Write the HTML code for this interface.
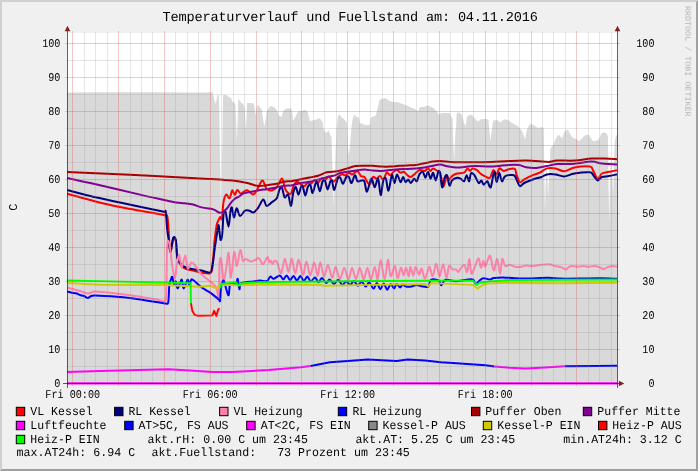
<!DOCTYPE html>
<html><head><meta charset="utf-8"><title>Temperaturverlauf und Fuellstand</title>
<style>html,body{margin:0;padding:0;background:#f0f0f0;}body{width:698px;height:471px;overflow:hidden;font-family:"Liberation Mono",monospace;}svg{display:block;}</style>
</head><body>
<svg width="698" height="471" viewBox="0 0 698 471" font-family="Liberation Mono, monospace">
<rect x="0" y="0" width="698" height="471" fill="#f0f0f0"/>
<polygon points="0,0 698,0 696,2 2,2 2,469 0,471" fill="#d0d0d0"/>
<polygon points="698,0 698,471 0,471 2,469 696,469 696,2" fill="#a0a0a0"/>
<rect x="67" y="33" width="551" height="351" fill="#ffffff"/>
<polygon points="67.0,383.9 67.0,92.4 100.0,92.3 150.0,92.2 190.0,92.4 205.0,92.5 212.5,92.3 213.0,94.5 215.5,104.0 217.8,94.7 218.8,94.5 219.3,110.0 221.2,232.0 222.7,110.0 223.2,94.7 226.6,95.0 228.6,97.0 230.9,97.8 232.6,102.5 234.1,101.5 235.6,106.6 236.9,141.0 238.3,99.3 239.6,100.0 241.1,103.0 242.9,103.5 244.6,107.5 245.9,130.0 247.1,103.0 253.6,103.3 254.1,105.0 255.6,115.0 257.2,105.5 258.7,105.5 261.7,109.5 263.2,120.0 264.4,126.6 265.5,120.0 267.0,110.5 269.5,107.0 271.0,106.0 274.5,107.5 276.8,110.0 279.0,115.5 281.5,116.9 283.5,110.5 286.0,108.8 291.0,108.2 291.9,111.0 293.3,121.3 295.6,116.0 298.6,111.2 302.1,111.0 304.6,109.5 307.6,111.5 309.1,118.0 310.1,121.3 313.1,120.3 316.6,119.6 319.6,118.3 321.2,120.0 322.7,122.0 323.4,128.0 324.7,131.6 326.7,133.0 328.2,130.0 330.2,134.6 331.5,137.3 331.9,150.0 333.7,207.0 335.6,150.0 336.2,140.0 336.5,129.5 338.0,116.0 339.5,114.2 341.5,117.2 344.0,119.0 346.5,122.0 347.0,124.0 347.5,140.0 348.7,155.0 349.8,148.0 351.6,126.0 352.6,119.0 354.6,114.2 356.6,117.0 358.9,117.2 359.6,123.0 362.1,123.4 364.6,124.9 369.6,125.0 370.6,118.0 373.1,116.5 375.8,115.6 377.0,111.0 378.5,105.0 379.2,100.5 382.0,98.5 385.0,98.0 387.0,99.0 389.0,100.5 393.0,102.0 397.6,102.0 401.1,103.5 406.1,105.2 411.1,107.6 415.1,109.0 416.6,110.6 418.1,110.9 419.6,107.6 422.1,106.5 424.1,107.0 427.7,105.2 430.2,106.5 433.7,108.0 435.2,109.9 437.2,111.6 438.2,114.6 439.7,114.0 442.2,113.0 450.0,113.0 451.0,116.0 452.5,119.0 452.8,129.0 453.4,145.0 454.3,160.0 455.0,140.0 455.6,130.0 456.0,129.0 456.5,115.0 457.5,112.5 460.0,112.8 462.0,115.0 464.0,123.0 465.6,126.0 466.9,117.0 469.0,115.0 472.0,114.8 474.0,117.5 478.0,121.5 481.0,119.2 485.0,118.8 488.6,119.5 489.0,127.0 490.4,141.0 492.0,128.0 493.2,120.5 497.2,120.0 500.2,122.5 504.2,119.2 508.2,120.0 512.0,123.0 518.0,126.0 522.0,131.0 525.0,139.0 527.0,129.0 530.0,124.0 533.0,124.5 538.0,128.0 541.0,127.2 543.0,127.5 543.8,128.0 544.2,165.0 545.0,212.0 545.9,175.0 546.8,168.0 547.5,180.0 548.1,200.0 548.9,175.0 550.0,160.0 550.2,149.0 551.0,148.0 553.6,144.0 556.0,138.0 558.6,134.5 560.0,136.0 562.0,138.5 564.6,131.0 568.0,129.8 570.0,134.0 573.0,138.2 575.6,138.5 579.0,141.2 581.0,139.5 584.6,135.5 588.6,134.5 590.6,137.5 593.1,141.2 597.1,140.5 599.6,138.0 600.6,135.0 602.1,132.8 604.6,132.5 606.6,133.5 607.6,135.5 607.9,136.0 608.4,175.0 609.2,223.0 610.0,175.0 611.2,156.0 612.3,175.0 613.2,195.0 613.8,170.0 614.6,143.0 615.6,137.0 617.0,135.0 617.5,135.0 617.5,383.9" fill="#000000" fill-opacity="0.15"/>
<g clip-path="url(#clip)">
<clipPath id="clip"><rect x="67" y="31" width="551" height="355"/></clipPath>
<path d="M67.0,193.7C70.7,194.7 81.5,197.9 90.0,200.0C98.5,202.1 108.2,204.6 120.0,207.0C131.8,209.4 156.4,213.6 164.0,215.0C167.2,216.4 166.5,213.7 167.2,216.0C167.9,218.3 168.3,225.1 168.6,229.4C168.9,233.7 169.0,239.4 169.3,243.0C169.6,246.6 170.0,252.6 170.6,252.0C171.2,251.4 172.4,240.8 173.2,239.0C174.0,237.2 175.1,238.0 175.8,241.0C176.5,244.0 176.4,253.8 177.5,258.0C178.6,262.2 180.2,265.2 182.7,267.2C185.2,269.2 188.6,269.6 193.0,270.6C197.4,271.6 207.0,274.3 210.2,273.2C212.7,272.1 212.0,269.1 212.7,264.0C213.4,258.9 213.9,247.5 214.5,241.4C215.1,235.3 216.0,229.1 216.5,226.0C217.0,222.9 217.0,223.6 217.6,222.2C218.2,220.8 219.5,217.5 220.2,217.0C220.9,216.5 221.4,221.3 221.9,218.8C222.4,216.3 222.9,205.5 223.6,201.6C224.3,197.7 225.2,195.3 226.2,194.7C227.2,194.1 228.6,198.8 229.6,198.1C230.6,197.4 231.4,190.9 232.2,190.4C233.0,189.9 234.0,195.1 234.8,195.0C235.6,194.9 236.3,190.1 237.3,189.9C238.3,189.7 239.7,193.6 240.8,193.8C241.9,194.0 243.1,191.8 244.2,191.3C245.3,190.8 246.3,189.9 247.7,190.4C249.1,190.9 251.4,194.3 252.8,194.4C254.2,194.5 255.1,193.2 256.3,191.3C257.5,189.4 259.5,184.4 260.6,182.7C261.7,181.0 262.1,179.9 263.1,180.9C264.1,181.9 265.2,187.2 266.6,188.7C268.0,190.2 270.1,190.7 271.7,190.4C273.3,190.1 275.4,188.8 276.9,187.0C278.4,185.2 280.2,180.3 281.2,179.2C282.2,178.1 282.2,178.5 282.9,180.1C283.6,181.7 284.3,187.3 285.5,189.5C286.7,191.7 289.2,194.6 290.6,193.8C292.0,193.0 293.0,186.3 294.1,184.4C295.2,182.5 296.4,181.8 297.5,181.8C298.6,181.8 299.9,183.7 301.0,184.4C302.1,185.1 303.3,186.4 304.4,186.1C305.5,185.8 306.7,183.1 307.8,182.7C308.9,182.3 310.1,183.9 311.2,183.5C312.3,183.1 313.6,180.2 314.7,180.1C315.8,180.0 317.0,183.0 318.1,182.7C319.2,182.4 320.5,178.8 321.6,178.4C322.7,178.0 323.9,180.4 325.0,180.1C326.1,179.8 327.4,176.6 328.5,176.6C329.6,176.6 331.0,179.3 331.9,180.1C332.8,180.9 333.4,181.8 334.3,181.3C335.2,180.8 336.5,178.1 337.7,177.0C338.9,175.9 340.8,174.7 342.0,174.4C343.2,174.1 344.4,175.5 345.5,175.2C346.6,174.9 347.8,172.8 348.9,172.7C350.0,172.6 350.9,174.7 352.3,174.4C353.7,174.1 356.1,170.6 357.5,170.9C358.9,171.2 359.8,175.1 360.9,176.1C362.0,177.1 363.0,175.6 364.4,177.0C365.8,178.4 368.1,184.7 369.5,184.7C370.9,184.7 371.9,178.0 373.0,177.0C374.1,176.0 375.3,178.8 376.4,178.7C377.5,178.6 378.8,176.0 379.9,176.1C381.0,176.2 382.2,180.0 383.3,179.5C384.4,179.0 385.6,173.4 386.7,172.7C387.8,172.0 389.1,175.3 390.2,175.2C391.3,175.1 392.5,172.6 393.6,171.8C394.7,171.0 395.9,170.0 397.0,170.1C398.1,170.2 399.4,172.4 400.5,172.7C401.6,173.0 402.8,171.4 403.9,171.8C405.0,172.2 406.3,174.4 407.4,175.2C408.5,176.0 409.7,177.1 410.8,177.0C411.9,176.9 412.8,175.5 414.2,174.4C415.6,173.3 417.7,170.7 419.4,170.1C421.1,169.5 423.2,171.2 424.6,170.9C426.0,170.6 427.0,168.4 428.0,168.4C429.0,168.4 429.8,170.9 430.6,170.9C431.4,170.9 432.0,168.4 433.1,168.4C434.2,168.4 436.3,170.2 437.4,170.9C438.5,171.6 439.3,171.3 440.0,172.7C440.7,174.1 441.1,177.3 441.7,179.5C442.3,181.7 442.7,186.9 443.5,186.4C444.3,185.9 446.1,177.1 446.9,176.1C447.7,175.1 447.8,180.4 448.6,180.4C449.4,180.4 450.6,177.2 452.0,176.1C453.4,175.0 455.3,174.0 457.2,173.5C459.1,173.0 462.5,173.5 464.1,172.7C465.7,171.9 466.5,168.7 467.5,168.4C468.5,168.1 469.3,170.9 470.1,170.9C470.9,170.9 471.6,168.5 472.7,168.4C473.8,168.3 475.8,169.3 477.0,170.1C478.2,170.9 479.2,172.5 480.4,173.5C481.6,174.5 483.2,175.4 484.7,176.1C486.2,176.8 488.5,178.8 489.9,177.8C491.3,176.8 492.2,170.6 493.3,170.1C494.4,169.6 495.7,174.7 496.7,174.4C497.7,174.1 498.2,169.0 499.3,168.4C500.4,167.8 502.1,170.8 503.6,170.9C505.1,171.0 507.0,169.5 508.8,169.2C510.6,168.9 513.6,168.1 514.8,168.9C516.0,169.7 515.7,172.3 516.5,174.4C517.3,176.5 518.7,181.3 519.9,182.1C521.1,182.9 522.1,180.6 524.2,179.5C526.3,178.4 530.3,176.3 532.8,175.2C535.3,174.1 537.4,173.8 539.7,172.7C542.0,171.6 544.4,169.1 546.9,168.4C549.4,167.7 552.7,167.9 555.5,168.4C558.3,168.9 561.1,171.4 564.1,171.3C567.1,171.2 570.3,168.3 574.4,167.5C578.5,166.7 586.9,166.1 589.9,166.6C592.9,167.1 592.1,169.0 593.3,170.9C594.5,172.8 596.2,178.3 597.6,178.7C599.0,179.1 600.1,174.6 601.9,173.5C603.7,172.4 606.4,172.3 608.8,171.8C611.2,171.3 615.7,170.4 617.0,170.1" fill="none" stroke="#ff0000" stroke-width="2.0" stroke-linejoin="round" stroke-linecap="butt"/>
<path d="M67.0,190.0C70.7,191.0 81.5,194.0 90.0,196.0C98.5,198.0 108.2,200.0 120.0,202.5C131.8,205.0 156.7,210.2 164.0,211.7C165.8,213.2 165.3,209.0 165.8,211.8C166.3,214.6 166.7,224.7 167.2,229.4C167.7,234.1 168.4,237.8 168.9,241.4C169.4,245.0 169.9,252.2 170.6,251.7C171.3,251.2 172.4,239.9 173.2,238.0C174.0,236.1 175.1,236.7 175.8,240.0C176.5,243.3 176.5,254.7 177.5,258.6C178.5,262.5 180.3,263.1 181.8,264.6C183.3,266.1 183.8,267.0 187.0,268.0C190.2,269.0 197.9,269.9 201.6,270.6C205.3,271.3 208.4,273.5 210.2,272.4C212.0,271.3 211.9,267.9 212.7,263.8C213.5,259.7 214.2,252.2 215.0,246.6C215.8,241.0 217.3,231.8 217.9,228.5C218.5,225.2 218.4,224.2 218.8,226.0C219.2,227.8 220.0,238.3 220.5,239.7C221.0,241.1 221.7,238.6 222.2,234.5C222.7,230.4 223.1,217.5 223.6,213.9C224.1,210.3 224.8,210.2 225.6,212.2C226.4,214.2 227.7,226.7 228.5,226.7C229.3,226.7 229.8,215.6 230.3,212.5C230.8,209.4 231.2,206.5 231.8,207.3C232.4,208.1 233.2,217.5 234.0,217.6C234.8,217.7 235.6,208.5 236.6,208.2C237.6,207.9 238.7,215.5 240.0,215.9C241.3,216.3 243.5,211.4 245.0,210.6C246.5,209.8 248.0,210.5 249.4,210.8C250.8,211.1 252.1,213.0 253.5,212.5C254.9,212.0 256.5,210.0 258.1,207.9C259.7,205.8 261.8,199.9 263.2,199.6C264.6,199.3 265.2,205.5 266.6,205.9C268.0,206.3 270.1,203.6 271.7,202.4C273.3,201.2 275.7,200.2 276.9,198.1C278.1,196.0 278.7,191.1 279.5,189.5C280.3,187.9 281.2,186.6 282.0,187.8C282.8,189.0 283.6,196.2 284.6,197.3C285.6,198.4 287.1,193.3 288.1,194.7C289.1,196.1 290.2,206.2 291.0,205.9C291.8,205.6 292.4,196.0 293.2,193.0C294.0,190.0 295.0,186.7 295.8,187.0C296.6,187.3 297.6,194.7 298.4,194.7C299.2,194.7 300.3,188.4 301.0,187.0C301.7,185.6 302.0,184.7 302.7,186.1C303.4,187.5 304.5,195.5 305.3,195.6C306.1,195.7 307.0,188.7 307.8,187.0C308.6,185.3 309.6,184.2 310.4,185.2C311.2,186.2 311.8,193.3 312.6,193.0C313.4,192.7 314.8,185.1 315.6,183.5C316.4,181.9 316.6,181.5 317.3,182.7C318.0,183.9 319.1,191.4 319.9,191.3C320.7,191.2 321.6,183.5 322.4,181.8C323.2,180.1 324.2,179.7 325.0,180.9C325.8,182.1 326.8,189.4 327.6,189.5C328.4,189.6 329.5,183.2 330.2,181.8C330.9,180.4 331.3,179.7 332.0,181.0C332.7,182.3 333.4,190.3 334.3,189.9C335.2,189.5 336.7,180.6 337.7,178.7C338.7,176.8 339.5,177.0 340.3,177.8C341.1,178.6 341.9,183.9 342.9,183.8C343.9,183.7 345.3,178.1 346.3,177.0C347.3,175.9 348.1,176.0 348.9,177.0C349.7,178.0 350.5,183.3 351.5,183.0C352.5,182.7 353.9,175.5 354.9,175.2C355.9,174.9 356.4,180.5 357.5,181.3C358.6,182.1 360.7,180.4 361.8,180.4C362.9,180.4 363.6,179.5 364.4,181.3C365.2,183.1 365.9,192.0 367.0,191.6C368.1,191.2 370.1,179.4 371.3,178.7C372.5,178.0 373.6,187.3 374.7,187.3C375.8,187.3 377.1,177.5 378.1,178.7C379.1,179.9 379.9,194.7 380.7,195.0C381.5,195.3 382.5,183.0 383.3,180.4C384.1,177.8 385.1,177.1 385.9,178.7C386.7,180.3 387.5,191.3 388.5,190.7C389.5,190.1 390.9,176.4 391.9,175.2C392.9,174.0 393.7,183.1 394.5,183.0C395.3,182.9 396.0,174.5 397.0,174.4C398.0,174.3 399.5,181.7 400.5,182.1C401.5,182.5 402.3,177.0 403.1,177.0C403.9,177.0 404.8,181.7 405.6,182.1C406.4,182.5 407.4,179.4 408.2,179.5C409.0,179.6 409.8,183.1 410.8,183.0C411.8,182.9 413.2,179.0 414.2,178.7C415.2,178.4 416.0,182.0 416.8,181.3C417.6,180.6 418.4,175.9 419.4,174.4C420.4,172.9 421.8,171.3 422.8,171.8C423.8,172.3 424.6,177.8 425.4,177.8C426.2,177.8 427.2,171.7 428.0,171.8C428.8,171.9 429.8,178.6 430.6,178.7C431.4,178.8 432.3,172.4 433.1,172.7C433.9,173.0 434.9,180.5 435.7,180.4C436.5,180.3 437.6,173.0 438.3,171.8C439.0,170.6 439.4,170.2 440.0,172.7C440.6,175.2 441.4,186.3 442.1,187.3C442.8,188.3 443.5,180.6 444.3,178.7C445.1,176.8 446.1,174.1 446.9,175.2C447.7,176.3 448.7,184.8 449.5,185.6C450.3,186.4 450.8,181.6 452.0,180.4C453.2,179.2 455.8,178.1 457.2,177.8C458.6,177.5 459.5,178.1 460.6,178.7C461.7,179.3 463.1,181.9 464.1,181.3C465.1,180.7 465.8,175.2 466.6,175.2C467.4,175.2 468.5,181.6 469.2,181.3C469.9,181.0 470.1,174.5 470.9,173.5C471.7,172.5 473.2,173.7 474.4,175.2C475.6,176.7 477.6,182.2 478.7,183.0C479.8,183.8 480.5,180.1 481.3,180.4C482.1,180.7 482.8,184.6 483.8,184.7C484.8,184.8 486.2,180.9 487.3,181.3C488.4,181.7 489.6,188.8 490.7,187.3C491.8,185.8 493.2,172.6 494.2,171.8C495.2,171.0 495.9,182.0 496.7,182.1C497.5,182.2 498.5,172.8 499.3,172.7C500.1,172.6 500.9,180.8 501.9,181.3C502.9,181.8 503.4,177.1 505.3,176.1C507.2,175.1 512.1,174.7 513.9,175.2C515.7,175.7 515.5,177.8 516.5,179.5C517.5,181.2 518.7,185.5 519.9,186.1C521.1,186.7 522.1,184.1 524.2,183.0C526.3,181.9 530.0,180.5 532.8,179.5C535.6,178.5 539.1,177.8 541.4,177.0C543.7,176.2 544.6,174.8 546.9,174.4C549.2,174.0 552.7,174.1 555.5,174.4C558.3,174.7 561.1,176.5 564.1,176.4C567.1,176.3 570.3,174.2 574.4,173.5C578.5,172.8 586.9,172.0 589.9,172.3C592.9,172.6 592.1,173.9 593.3,175.2C594.5,176.5 596.2,180.1 597.6,180.4C599.0,180.7 600.1,177.7 601.9,177.0C603.7,176.3 606.4,176.5 608.8,176.1C611.2,175.7 615.7,174.7 617.0,174.4" fill="none" stroke="#000080" stroke-width="2.0" stroke-linejoin="round" stroke-linecap="butt"/>
<path d="M67.0,287.5C69.1,288.1 76.6,290.0 80.0,291.0C83.4,292.0 85.4,293.4 88.0,293.5C90.6,293.6 90.9,291.4 96.0,291.5C101.1,291.6 112.9,293.2 120.0,294.0C127.1,294.8 134.4,295.8 140.2,296.7C146.0,297.6 152.3,298.9 156.3,299.5C160.3,300.1 163.7,302.2 165.3,300.7C166.3,299.2 166.0,298.9 166.3,290.0C166.6,281.1 166.7,252.9 167.2,245.3C167.7,237.7 168.8,241.6 169.3,242.7C169.8,243.8 170.1,248.5 170.6,252.2C171.1,255.9 171.6,261.7 172.3,266.0C173.0,270.3 174.2,278.8 174.9,278.8C175.6,278.8 175.9,269.8 176.6,266.0C177.3,262.2 178.4,254.5 179.2,254.8C180.0,255.1 180.8,267.6 181.8,267.7C182.8,267.8 184.2,255.5 185.2,255.6C186.2,255.7 186.8,267.4 187.8,268.5C188.8,269.6 190.2,263.1 191.3,262.5C192.4,261.9 193.1,263.1 194.7,265.0C196.3,266.9 199.1,271.9 201.6,274.5C204.1,277.1 207.9,279.3 210.2,281.4C212.5,283.5 214.8,284.9 216.2,287.4C217.6,289.9 218.3,300.9 218.8,296.9C219.3,292.9 219.2,268.4 219.6,262.5C220.0,256.6 220.7,257.0 221.3,260.0C221.9,263.0 222.8,280.4 223.6,281.4C224.4,282.4 225.7,270.5 226.5,266.0C227.3,261.5 228.0,251.1 228.7,253.0C229.4,254.9 229.9,278.1 230.8,278.0C231.7,277.9 233.2,254.1 234.2,252.2C235.2,250.3 235.8,266.4 236.8,266.0C237.8,265.6 239.3,250.8 240.3,250.0C241.3,249.2 242.0,259.4 242.8,260.8C243.6,262.2 244.6,259.1 245.4,259.0C246.2,258.9 247.2,259.6 248.0,260.0C248.8,260.4 249.7,261.4 250.5,261.5C251.3,261.6 252.2,261.1 253.1,260.8C254.0,260.5 255.0,259.9 256.0,259.5C257.0,259.1 258.1,257.4 259.2,258.2C260.3,259.0 261.6,263.8 262.6,264.2C263.6,264.6 264.4,262.2 265.2,261.0C266.0,259.8 267.0,256.8 267.7,257.0C268.4,257.2 268.9,261.9 269.4,262.5C269.9,263.1 270.6,260.6 271.1,260.8C271.6,261.0 271.8,263.9 272.4,263.9C273.0,263.9 273.8,261.1 274.6,260.8C275.4,260.5 276.4,260.8 277.2,262.2C278.0,263.6 278.6,267.7 279.3,269.4C280.0,271.1 280.6,274.5 281.5,272.8C282.4,271.1 283.8,258.8 284.9,258.7C286.0,258.6 287.3,272.0 288.4,272.0C289.5,272.0 290.7,258.4 291.8,258.7C292.9,259.0 294.1,273.6 295.2,273.7C296.3,273.8 297.5,259.4 298.7,259.6C299.9,259.8 301.8,274.6 303.0,274.9C304.2,275.2 305.2,261.5 306.4,261.6C307.6,261.7 309.0,275.3 310.2,275.4C311.4,275.5 313.0,262.4 314.2,262.5C315.4,262.6 316.6,275.9 317.6,275.9C318.6,275.9 319.2,262.1 320.2,262.2C321.2,262.3 322.8,276.1 324.0,276.6C325.2,277.1 326.6,264.9 327.9,265.1C329.2,265.3 331.0,277.7 332.2,278.0C333.4,278.3 334.4,266.6 335.6,266.8C336.8,267.0 338.5,279.3 339.9,279.4C341.3,279.5 342.8,267.6 344.2,267.7C345.6,267.8 347.3,280.0 348.5,280.0C349.7,280.0 350.8,267.8 352.0,267.7C353.2,267.6 354.7,279.4 355.9,279.4C357.1,279.4 358.5,267.7 359.7,267.7C360.9,267.7 362.5,279.7 363.7,279.7C364.9,279.7 366.2,267.7 367.4,267.7C368.6,267.7 369.7,279.8 370.9,279.7C372.1,279.6 373.7,266.8 374.8,266.8C375.9,266.8 376.8,280.5 377.7,279.4C378.6,278.3 379.6,259.9 380.7,259.9C381.8,259.9 383.4,279.4 384.6,279.4C385.8,279.4 387.0,260.4 388.0,259.9C389.0,259.4 389.5,275.3 390.6,276.3C391.7,277.3 393.8,265.6 394.9,265.9C396.0,266.2 396.5,278.0 397.5,278.3C398.5,278.6 399.9,268.2 400.9,267.7C401.9,267.2 402.7,275.4 403.5,275.4C404.3,275.4 405.3,267.6 406.1,267.7C406.9,267.8 408.0,276.4 408.7,276.3C409.4,276.2 409.7,266.9 410.4,266.8C411.1,266.7 412.5,275.4 413.3,275.4C414.1,275.4 414.7,266.9 415.6,266.8C416.5,266.7 418.0,274.2 419.0,274.5C420.0,274.8 420.6,267.8 421.6,268.5C422.6,269.2 423.8,279.1 425.0,278.8C426.2,278.5 428.1,267.2 429.3,266.8C430.5,266.4 431.6,276.8 432.7,276.3C433.8,275.8 435.1,263.4 436.2,263.4C437.3,263.4 438.5,276.2 439.6,276.3C440.7,276.4 442.0,264.0 443.1,264.2C444.2,264.4 445.5,277.3 446.5,277.6C447.5,277.9 448.1,267.2 449.1,265.9C450.1,264.6 451.4,268.8 452.5,269.4C453.6,270.0 455.0,269.0 456.0,269.4C457.0,269.8 457.7,272.3 458.5,272.0C459.3,271.7 460.1,268.8 461.1,267.7C462.1,266.6 463.6,264.4 464.6,265.1C465.6,265.8 466.3,273.0 467.1,272.0C467.9,271.0 468.7,258.8 469.4,259.1C470.1,259.4 470.5,272.5 471.4,273.7C472.3,274.9 473.7,269.3 474.9,266.8C476.1,264.3 477.6,258.1 478.6,258.2C479.6,258.3 480.1,267.3 480.9,267.7C481.7,268.1 482.8,260.9 483.5,260.8C484.2,260.7 484.5,266.9 485.2,266.8C485.9,266.7 487.0,261.6 487.8,259.9C488.6,258.2 489.3,254.3 490.3,256.0C491.3,257.7 492.7,270.0 493.8,270.5C494.9,271.0 496.2,258.4 497.2,259.0C498.2,259.6 499.4,274.0 500.2,274.0C501.0,274.0 501.4,260.3 502.2,259.0C503.0,257.7 504.0,265.1 505.2,266.0C506.4,266.9 508.4,264.7 509.8,264.8C511.2,264.9 512.4,266.1 514.0,266.5C515.6,266.9 518.1,267.2 520.0,267.0C521.9,266.8 524.0,265.7 526.0,265.5C528.0,265.3 530.5,266.1 532.7,266.0C534.9,265.9 537.4,265.3 540.0,265.0C542.6,264.7 546.4,264.1 548.8,264.3C551.2,264.5 553.2,265.6 555.0,266.0C556.8,266.4 558.9,266.7 560.2,267.0C561.5,267.3 562.1,267.6 563.0,268.0C563.9,268.4 565.0,269.6 566.0,269.4C567.0,269.2 568.1,267.5 569.0,267.0C569.9,266.5 570.4,266.0 571.7,266.0C573.0,266.0 575.2,266.8 577.0,266.8C578.8,266.8 581.3,266.0 583.2,266.0C585.1,266.0 587.2,266.8 589.0,266.8C590.8,266.8 592.8,265.9 594.6,266.0C596.4,266.1 598.5,267.0 600.0,267.5C601.5,268.0 602.5,269.1 603.8,269.0C605.1,268.9 606.5,267.5 608.0,267.0C609.5,266.5 611.6,266.0 613.0,266.0C614.4,266.0 616.4,266.8 617.0,267.0" fill="none" stroke="#ff80a8" stroke-width="2.0" stroke-linejoin="round" stroke-linecap="butt"/>
<path d="M67.0,291.5C67.8,291.7 70.6,292.4 72.0,292.7C73.4,293.0 74.7,292.9 76.0,293.3C77.3,293.7 78.7,294.6 80.0,295.0C81.3,295.4 82.7,295.5 84.0,296.0C85.3,296.5 86.4,298.1 88.0,298.0C89.6,297.9 88.9,295.7 94.0,295.5C99.1,295.3 112.6,296.4 120.0,297.0C127.4,297.6 134.4,298.7 140.2,299.5C146.0,300.3 152.3,301.4 156.3,302.0C160.3,302.6 163.4,303.5 165.3,303.5C167.2,303.5 167.7,305.0 168.3,302.0C168.9,299.0 168.9,288.6 169.3,285.0C169.7,281.4 170.5,280.8 171.0,279.5C171.5,278.2 171.8,276.1 172.3,277.0C172.8,277.9 173.5,284.2 174.1,284.9C174.7,285.6 175.3,280.9 175.8,281.4C176.3,281.9 176.8,288.0 177.5,288.3C178.2,288.6 179.4,284.5 180.1,283.1C180.8,281.7 181.3,278.9 181.8,279.7C182.3,280.5 182.8,287.8 183.5,288.3C184.2,288.8 185.4,284.5 186.1,283.1C186.8,281.7 187.3,279.4 187.8,279.7C188.3,280.0 188.8,284.9 189.5,284.9C190.2,284.9 190.2,279.0 192.1,279.4C194.0,279.8 198.7,285.3 201.6,287.4C204.5,289.5 207.4,290.7 210.2,292.6C213.0,294.5 217.2,298.3 218.8,299.5C220.1,300.7 219.7,302.4 220.1,300.3C220.5,298.2 220.7,289.8 221.3,286.6C221.9,283.4 222.8,280.1 223.6,280.6C224.4,281.1 225.7,287.7 226.5,290.0C227.3,292.3 228.2,296.0 228.7,295.2C229.2,294.4 229.3,286.8 229.9,284.9C230.5,283.0 231.5,283.1 232.5,283.1C233.5,283.1 235.2,285.6 236.0,284.9C236.8,284.2 237.2,278.1 237.7,278.8C238.2,279.5 238.9,288.5 239.4,289.2C239.9,289.9 239.4,284.3 241.1,283.1C243.3,281.9 250.1,281.8 253.1,281.4C256.1,281.0 257.8,280.7 260.0,280.6C262.2,280.5 265.3,281.6 266.9,281.0C268.5,280.4 269.2,277.0 270.3,276.6C271.4,276.2 272.3,279.0 273.8,278.8C275.3,278.6 278.3,275.3 279.8,275.4C281.3,275.5 282.1,279.4 283.2,279.4C284.3,279.4 285.5,275.3 286.6,275.4C287.7,275.5 289.0,279.9 290.1,280.0C291.2,280.1 292.4,275.8 293.5,275.9C294.6,276.0 295.9,280.6 297.0,280.6C298.1,280.6 299.3,275.8 300.4,275.9C301.5,276.0 302.7,280.9 303.8,281.0C304.9,281.1 306.2,276.5 307.3,276.6C308.4,276.7 309.5,281.2 310.7,281.4C311.9,281.6 313.8,277.5 315.0,277.6C316.2,277.7 317.4,282.2 318.5,282.3C319.6,282.4 320.7,277.9 321.9,278.0C323.1,278.1 325.0,282.9 326.2,283.1C327.4,283.3 328.4,279.3 329.6,279.4C330.8,279.5 332.5,283.9 333.9,284.0C335.3,284.1 336.8,279.8 338.2,280.0C339.6,280.2 341.3,285.0 342.5,285.2C343.7,285.4 344.8,281.4 346.0,281.4C347.2,281.4 349.1,285.0 350.3,284.9C351.5,284.8 352.5,280.9 353.7,281.0C354.9,281.1 356.8,285.6 358.0,285.7C359.2,285.8 360.2,281.3 361.4,281.4C362.6,281.5 364.5,286.5 365.7,286.6C366.9,286.7 368.0,282.0 369.2,282.3C370.4,282.6 372.3,288.5 373.5,288.6C374.7,288.7 375.8,283.0 376.9,283.1C378.0,283.2 379.2,289.1 380.3,289.2C381.4,289.3 382.7,283.4 383.8,283.5C384.9,283.6 386.1,289.6 387.2,289.7C388.3,289.8 389.5,284.2 390.6,284.0C391.7,283.8 393.1,288.3 394.1,288.3C395.1,288.3 395.6,284.1 396.6,284.0C397.6,283.9 399.1,287.3 400.1,287.4C401.1,287.5 401.7,284.6 402.7,284.5C403.7,284.4 404.7,286.3 406.1,286.6C407.5,286.9 409.7,286.9 411.3,286.6C412.9,286.3 414.8,285.0 416.4,284.9C418.0,284.8 419.7,285.9 421.6,286.2C423.5,286.5 426.9,287.6 428.4,286.6C429.9,285.6 429.3,280.8 431.0,279.8C432.7,278.8 437.2,279.7 438.8,280.6C440.4,281.5 440.2,285.3 441.3,285.2C442.4,285.1 443.2,280.4 445.6,279.8C448.0,279.2 452.7,281.2 456.0,281.2C459.3,281.2 463.6,280.1 466.3,279.8C469.0,279.5 471.6,278.9 473.1,279.6C474.6,280.3 474.6,283.9 475.7,284.0C476.8,284.1 478.8,281.1 480.0,280.2C481.2,279.3 481.9,278.4 483.5,278.3C485.1,278.2 488.4,279.4 490.0,279.4C491.6,279.4 491.7,278.4 493.8,278.1C495.9,277.8 498.8,277.3 503.0,277.4C507.2,277.5 512.8,278.4 520.0,278.5C527.2,278.6 541.6,277.8 548.0,277.8C554.4,277.8 554.9,278.5 560.0,278.6C565.1,278.7 573.6,278.6 580.0,278.5C586.4,278.4 594.1,278.2 600.0,278.2C605.9,278.2 614.3,278.7 617.0,278.8" fill="none" stroke="#0000ff" stroke-width="2.0" stroke-linejoin="round" stroke-linecap="butt"/>
<path d="M67.0,172.0C77.1,172.4 108.7,173.8 130.0,174.8C151.3,175.8 186.4,177.8 200.0,178.5C213.6,179.2 209.8,178.9 215.0,179.2C220.2,179.5 227.3,180.0 232.2,180.6C237.1,181.2 242.3,182.0 245.9,182.7C249.5,183.4 252.3,184.7 254.5,185.2C256.7,185.7 257.8,186.1 259.7,186.1C261.6,186.1 264.1,185.5 266.6,185.2C269.1,184.9 272.4,184.5 275.2,184.0C278.0,183.5 281.0,182.3 283.8,181.8C286.6,181.3 289.6,181.3 292.4,180.9C295.2,180.5 298.2,179.7 301.0,179.2C303.8,178.7 306.9,178.0 309.6,177.5C312.3,177.0 315.4,176.6 318.1,175.8C320.8,175.0 324.0,173.0 326.7,172.3C329.4,171.6 333.1,171.7 335.0,171.5C336.9,171.3 336.6,171.4 338.6,170.9C340.6,170.4 344.4,169.2 347.2,168.4C350.0,167.6 353.0,166.5 355.8,166.1C358.6,165.7 361.6,165.8 364.4,165.8C367.2,165.8 370.2,165.7 373.0,165.8C375.8,165.9 378.8,166.5 381.6,166.6C384.4,166.7 387.4,166.7 390.2,166.6C393.0,166.5 396.0,166.0 398.8,165.8C401.6,165.6 404.6,165.5 407.4,165.4C410.2,165.3 413.2,165.3 416.0,164.9C418.8,164.5 421.9,163.7 424.6,163.2C427.3,162.7 430.6,161.9 433.1,161.5C435.6,161.1 437.3,160.9 440.0,161.0C442.7,161.1 447.2,161.8 450.0,162.0C452.8,162.2 453.3,162.3 457.2,162.3C461.1,162.3 468.9,162.3 474.4,162.3C479.9,162.3 486.1,162.2 491.6,162.0C497.1,161.8 503.3,161.2 508.8,161.0C514.3,160.8 520.5,160.5 526.0,160.6C531.5,160.7 539.5,161.3 543.1,161.5C546.7,161.7 546.3,162.1 548.6,162.0C550.9,161.9 553.1,160.8 557.2,160.6C561.3,160.4 568.9,160.9 574.4,160.6C579.9,160.3 586.7,158.9 591.6,158.6C596.5,158.3 601.2,158.5 605.3,158.6C609.4,158.7 615.1,159.2 617.0,159.3" fill="none" stroke="#a80000" stroke-width="2.0" stroke-linejoin="round" stroke-linecap="butt"/>
<path d="M67.0,178.0C72.3,179.2 88.3,182.6 100.0,185.3C111.7,188.0 129.8,192.2 140.0,194.6C150.2,197.0 158.2,198.7 164.0,200.0C169.8,201.3 172.7,202.0 176.0,202.5C179.3,203.0 181.7,203.0 184.4,203.3C187.1,203.6 190.2,203.8 193.0,204.5C195.8,205.2 198.6,206.7 201.6,207.4C204.6,208.1 209.8,208.7 211.9,209.1C214.0,209.5 213.9,209.7 215.0,210.2C216.1,210.7 218.0,212.1 218.8,212.5C219.6,212.9 219.5,212.7 220.2,212.7C220.9,212.7 222.2,212.6 223.0,212.2C223.8,211.8 224.6,210.9 225.3,210.2C226.0,209.5 226.6,209.0 227.4,207.9C228.2,206.8 229.7,204.4 230.5,203.3C231.3,202.2 231.7,201.8 232.5,201.0C233.3,200.2 234.5,198.8 235.6,198.1C236.7,197.4 238.3,197.1 239.4,196.4C240.5,195.7 240.9,194.5 242.5,193.8C244.1,193.1 246.9,192.6 249.4,192.1C251.9,191.6 255.2,190.9 258.0,190.4C260.8,189.9 263.8,189.6 266.6,189.2C269.4,188.8 272.4,188.3 275.2,187.8C278.0,187.3 281.0,186.2 283.8,185.8C286.6,185.4 289.6,185.6 292.4,185.2C295.2,184.8 298.2,183.5 301.0,183.0C303.8,182.5 306.9,182.3 309.6,181.8C312.3,181.3 315.4,180.3 318.1,179.6C320.8,178.9 324.0,177.9 326.7,177.2C329.4,176.5 333.1,176.0 335.0,175.4C336.9,174.8 336.6,174.1 338.6,173.5C340.6,172.9 344.4,172.3 347.2,171.8C350.0,171.3 353.0,171.0 355.8,170.6C358.6,170.2 361.6,169.6 364.4,169.6C367.2,169.6 370.2,170.4 373.0,170.6C375.8,170.8 378.8,171.0 381.6,170.9C384.4,170.8 387.4,170.4 390.2,170.1C393.0,169.8 396.0,169.4 398.8,169.2C401.6,169.0 404.6,169.0 407.4,168.9C410.2,168.8 413.2,168.6 416.0,168.4C418.8,168.2 421.9,167.9 424.6,167.5C427.3,167.1 430.6,166.3 433.1,165.8C435.6,165.3 437.5,164.5 440.0,164.6C442.5,164.7 445.8,166.1 448.6,166.6C451.4,167.1 453.1,167.6 457.2,167.5C461.3,167.4 468.9,166.2 474.4,166.1C479.9,166.0 486.1,166.8 491.6,166.6C497.1,166.4 504.4,165.2 508.8,164.9C513.2,164.6 516.3,164.5 519.1,164.9C521.9,165.3 523.2,166.7 526.0,167.2C528.8,167.7 533.0,168.1 536.3,167.9C539.6,167.7 543.3,166.7 546.6,166.1C549.9,165.5 552.8,164.5 557.2,164.1C561.6,163.7 568.9,164.1 574.4,163.7C579.9,163.3 587.5,161.6 591.6,161.5C595.7,161.4 597.4,162.8 600.2,163.2C603.0,163.6 606.1,163.9 608.8,164.1C611.5,164.3 615.7,164.4 617.0,164.4" fill="none" stroke="#800090" stroke-width="2.0" stroke-linejoin="round" stroke-linecap="butt"/>
<polyline points="67.0,383.4 617.5,383.4" fill="none" stroke="#ff00ff" stroke-width="2.3" stroke-linejoin="round" stroke-linecap="butt"/>
<polyline points="67.0,372.1 100.0,370.9 168.3,369.3 190.0,370.5 212.4,372.1 232.5,372.1 268.6,370.0 300.7,367.3 310.7,366.0" fill="none" stroke="#ff00ff" stroke-width="2.0" stroke-linejoin="round" stroke-linecap="butt"/>
<polyline points="310.7,366.0 310.7,366.0 330.0,362.2 347.8,360.9 367.8,359.5 382.0,360.3 396.6,360.9 407.7,359.5 425.0,360.5 441.0,362.2 460.0,363.6 485.4,365.3 494.3,366.6" fill="none" stroke="#0000ff" stroke-width="2.0" stroke-linejoin="round" stroke-linecap="butt"/>
<polyline points="494.3,366.6 494.3,366.6 510.0,367.8 525.4,368.4 545.0,367.4 564.8,366.3" fill="none" stroke="#ff00ff" stroke-width="2.0" stroke-linejoin="round" stroke-linecap="butt"/>
<polyline points="564.8,366.3 564.8,366.3 596.5,366.0 617.0,365.7" fill="none" stroke="#0000ff" stroke-width="2.0" stroke-linejoin="round" stroke-linecap="butt"/>
<polyline points="67.0,283.0 100.0,284.7 164.3,285.0 200.0,286.7 210.2,285.7 216.2,288.3 220.5,284.9 239.4,285.2 270.0,284.5 300.0,284.9 320.0,285.0 325.0,285.7 370.0,284.9 425.0,284.0 428.4,286.6 431.0,283.1 473.1,284.9 477.4,288.6 481.7,285.7 487.0,283.6 500.0,283.0 560.0,283.2 617.0,282.7" fill="none" stroke="#cccc00" stroke-width="1.9" stroke-linejoin="round" stroke-linecap="butt"/>
<polyline points="67.0,280.4 120.0,281.6 164.3,282.6 190.6,283.2 191.0,304.0" fill="none" stroke="#00ff00" stroke-width="1.9" stroke-linejoin="round" stroke-linecap="butt"/>
<polyline points="191.0,303.5 191.2,304.5 192.3,310.8 194.6,314.9 197.5,315.7 212.4,315.4 214.1,310.8 216.4,316.0 218.1,309.7 219.5,308.3" fill="none" stroke="#ff0000" stroke-width="1.9" stroke-linejoin="round" stroke-linecap="butt"/>
<polyline points="220.4,288.5 221.0,283.9 236.0,282.3 238.6,285.5 241.1,283.2 260.0,282.3 300.0,281.8 370.0,281.0 425.0,280.6 473.1,280.6 476.6,284.9 480.0,282.5 490.0,281.4 510.0,280.0 617.0,279.5" fill="none" stroke="#00ff00" stroke-width="1.9" stroke-linejoin="round" stroke-linecap="butt"/>
</g>
<g shape-rendering="crispEdges"><line x1="84.5" y1="32" x2="84.5" y2="385" stroke="#8f8f8f" stroke-opacity="0.22"/><line x1="95.5" y1="32" x2="95.5" y2="385" stroke="#8f8f8f" stroke-opacity="0.22"/><line x1="107.5" y1="32" x2="107.5" y2="385" stroke="#8f8f8f" stroke-opacity="0.22"/><line x1="130.5" y1="32" x2="130.5" y2="385" stroke="#8f8f8f" stroke-opacity="0.22"/><line x1="141.5" y1="32" x2="141.5" y2="385" stroke="#8f8f8f" stroke-opacity="0.22"/><line x1="152.5" y1="32" x2="152.5" y2="385" stroke="#8f8f8f" stroke-opacity="0.22"/><line x1="175.5" y1="32" x2="175.5" y2="385" stroke="#8f8f8f" stroke-opacity="0.22"/><line x1="187.5" y1="32" x2="187.5" y2="385" stroke="#8f8f8f" stroke-opacity="0.22"/><line x1="198.5" y1="32" x2="198.5" y2="385" stroke="#8f8f8f" stroke-opacity="0.22"/><line x1="221.5" y1="32" x2="221.5" y2="385" stroke="#8f8f8f" stroke-opacity="0.22"/><line x1="233.5" y1="32" x2="233.5" y2="385" stroke="#8f8f8f" stroke-opacity="0.22"/><line x1="244.5" y1="32" x2="244.5" y2="385" stroke="#8f8f8f" stroke-opacity="0.22"/><line x1="267.5" y1="32" x2="267.5" y2="385" stroke="#8f8f8f" stroke-opacity="0.22"/><line x1="278.5" y1="32" x2="278.5" y2="385" stroke="#8f8f8f" stroke-opacity="0.22"/><line x1="290.5" y1="32" x2="290.5" y2="385" stroke="#8f8f8f" stroke-opacity="0.22"/><line x1="313.5" y1="32" x2="313.5" y2="385" stroke="#8f8f8f" stroke-opacity="0.22"/><line x1="324.5" y1="32" x2="324.5" y2="385" stroke="#8f8f8f" stroke-opacity="0.22"/><line x1="336.5" y1="32" x2="336.5" y2="385" stroke="#8f8f8f" stroke-opacity="0.22"/><line x1="359.5" y1="32" x2="359.5" y2="385" stroke="#8f8f8f" stroke-opacity="0.22"/><line x1="370.5" y1="32" x2="370.5" y2="385" stroke="#8f8f8f" stroke-opacity="0.22"/><line x1="382.5" y1="32" x2="382.5" y2="385" stroke="#8f8f8f" stroke-opacity="0.22"/><line x1="405.5" y1="32" x2="405.5" y2="385" stroke="#8f8f8f" stroke-opacity="0.22"/><line x1="416.5" y1="32" x2="416.5" y2="385" stroke="#8f8f8f" stroke-opacity="0.22"/><line x1="427.5" y1="32" x2="427.5" y2="385" stroke="#8f8f8f" stroke-opacity="0.22"/><line x1="450.5" y1="32" x2="450.5" y2="385" stroke="#8f8f8f" stroke-opacity="0.22"/><line x1="462.5" y1="32" x2="462.5" y2="385" stroke="#8f8f8f" stroke-opacity="0.22"/><line x1="473.5" y1="32" x2="473.5" y2="385" stroke="#8f8f8f" stroke-opacity="0.22"/><line x1="496.5" y1="32" x2="496.5" y2="385" stroke="#8f8f8f" stroke-opacity="0.22"/><line x1="508.5" y1="32" x2="508.5" y2="385" stroke="#8f8f8f" stroke-opacity="0.22"/><line x1="519.5" y1="32" x2="519.5" y2="385" stroke="#8f8f8f" stroke-opacity="0.22"/><line x1="542.5" y1="32" x2="542.5" y2="385" stroke="#8f8f8f" stroke-opacity="0.22"/><line x1="553.5" y1="32" x2="553.5" y2="385" stroke="#8f8f8f" stroke-opacity="0.22"/><line x1="565.5" y1="32" x2="565.5" y2="385" stroke="#8f8f8f" stroke-opacity="0.22"/><line x1="588.5" y1="32" x2="588.5" y2="385" stroke="#8f8f8f" stroke-opacity="0.22"/><line x1="599.5" y1="32" x2="599.5" y2="385" stroke="#8f8f8f" stroke-opacity="0.22"/><line x1="611.5" y1="32" x2="611.5" y2="385" stroke="#8f8f8f" stroke-opacity="0.22"/><line x1="66" y1="366.5" x2="619" y2="366.5" stroke="#8f8f8f" stroke-opacity="0.22"/><line x1="66" y1="332.5" x2="619" y2="332.5" stroke="#8f8f8f" stroke-opacity="0.22"/><line x1="66" y1="298.5" x2="619" y2="298.5" stroke="#8f8f8f" stroke-opacity="0.22"/><line x1="66" y1="264.5" x2="619" y2="264.5" stroke="#8f8f8f" stroke-opacity="0.22"/><line x1="66" y1="230.5" x2="619" y2="230.5" stroke="#8f8f8f" stroke-opacity="0.22"/><line x1="66" y1="196.5" x2="619" y2="196.5" stroke="#8f8f8f" stroke-opacity="0.22"/><line x1="66" y1="162.5" x2="619" y2="162.5" stroke="#8f8f8f" stroke-opacity="0.22"/><line x1="66" y1="128.5" x2="619" y2="128.5" stroke="#8f8f8f" stroke-opacity="0.22"/><line x1="66" y1="94.5" x2="619" y2="94.5" stroke="#8f8f8f" stroke-opacity="0.22"/><line x1="66" y1="60.5" x2="619" y2="60.5" stroke="#8f8f8f" stroke-opacity="0.22"/><line x1="72.5" y1="31" x2="72.5" y2="386" stroke="#de4f4f" stroke-opacity="0.31"/><line x1="118.5" y1="31" x2="118.5" y2="386" stroke="#de4f4f" stroke-opacity="0.31"/><line x1="164.5" y1="31" x2="164.5" y2="386" stroke="#de4f4f" stroke-opacity="0.31"/><line x1="210.5" y1="31" x2="210.5" y2="386" stroke="#de4f4f" stroke-opacity="0.31"/><line x1="256.5" y1="31" x2="256.5" y2="386" stroke="#de4f4f" stroke-opacity="0.31"/><line x1="301.5" y1="31" x2="301.5" y2="386" stroke="#de4f4f" stroke-opacity="0.31"/><line x1="347.5" y1="31" x2="347.5" y2="386" stroke="#de4f4f" stroke-opacity="0.31"/><line x1="393.5" y1="31" x2="393.5" y2="386" stroke="#de4f4f" stroke-opacity="0.31"/><line x1="439.5" y1="31" x2="439.5" y2="386" stroke="#de4f4f" stroke-opacity="0.31"/><line x1="485.5" y1="31" x2="485.5" y2="386" stroke="#de4f4f" stroke-opacity="0.31"/><line x1="531.5" y1="31" x2="531.5" y2="386" stroke="#de4f4f" stroke-opacity="0.31"/><line x1="576.5" y1="31" x2="576.5" y2="386" stroke="#de4f4f" stroke-opacity="0.31"/><line x1="65" y1="383.5" x2="620" y2="383.5" stroke="#de4f4f" stroke-opacity="0.31"/><line x1="65" y1="349.5" x2="620" y2="349.5" stroke="#de4f4f" stroke-opacity="0.31"/><line x1="65" y1="315.5" x2="620" y2="315.5" stroke="#de4f4f" stroke-opacity="0.31"/><line x1="65" y1="281.5" x2="620" y2="281.5" stroke="#de4f4f" stroke-opacity="0.31"/><line x1="65" y1="247.5" x2="620" y2="247.5" stroke="#de4f4f" stroke-opacity="0.31"/><line x1="65" y1="213.5" x2="620" y2="213.5" stroke="#de4f4f" stroke-opacity="0.31"/><line x1="65" y1="179.5" x2="620" y2="179.5" stroke="#de4f4f" stroke-opacity="0.31"/><line x1="65" y1="145.5" x2="620" y2="145.5" stroke="#de4f4f" stroke-opacity="0.31"/><line x1="65" y1="111.5" x2="620" y2="111.5" stroke="#de4f4f" stroke-opacity="0.31"/><line x1="65" y1="77.5" x2="620" y2="77.5" stroke="#de4f4f" stroke-opacity="0.31"/><line x1="65" y1="43.5" x2="620" y2="43.5" stroke="#de4f4f" stroke-opacity="0.31"/></g>
<g shape-rendering="crispEdges">
<line x1="67.5" y1="30" x2="67.5" y2="388" stroke="#1f1f1f" stroke-opacity="0.7"/>
<line x1="617.5" y1="30" x2="617.5" y2="388" stroke="#1f1f1f" stroke-opacity="0.7"/>
<line x1="63" y1="383.5" x2="620" y2="383.5" stroke="#1f1f1f" stroke-opacity="0.7"/>
</g>
<polygon points="64.7,31.2 70.3,31.2 67.5,25.8" fill="#801f1f"/>
<polygon points="614.7,31.2 620.3,31.2 617.5,25.8" fill="#801f1f"/>
<polygon points="618.9,380.7 618.9,386.3 624.3,383.5" fill="#801f1f"/>
<g style="opacity:0.999" text-rendering="geometricPrecision">
<text x="162.5" y="20.6" font-size="13.6" text-anchor="start" fill="#000000" xml:space="preserve" textLength="375.4" lengthAdjust="spacing">Temperaturverlauf und Fuellstand am: 04.11.2016</text>
<text transform="translate(54.32,387.10) scale(0.8515,1)" font-size="11.9" fill="#000000" xml:space="preserve">0</text>
<text transform="translate(648.42,387.10) scale(0.8515,1)" font-size="11.9" fill="#000000" xml:space="preserve">0</text>
<text transform="translate(48.24,353.10) scale(0.8515,1)" font-size="11.9" fill="#000000" xml:space="preserve">10</text>
<text transform="translate(642.34,353.10) scale(0.8515,1)" font-size="11.9" fill="#000000" xml:space="preserve">10</text>
<text transform="translate(48.24,319.10) scale(0.8515,1)" font-size="11.9" fill="#000000" xml:space="preserve">20</text>
<text transform="translate(642.34,319.10) scale(0.8515,1)" font-size="11.9" fill="#000000" xml:space="preserve">20</text>
<text transform="translate(48.24,285.10) scale(0.8515,1)" font-size="11.9" fill="#000000" xml:space="preserve">30</text>
<text transform="translate(642.34,285.10) scale(0.8515,1)" font-size="11.9" fill="#000000" xml:space="preserve">30</text>
<text transform="translate(48.24,251.10) scale(0.8515,1)" font-size="11.9" fill="#000000" xml:space="preserve">40</text>
<text transform="translate(642.34,251.10) scale(0.8515,1)" font-size="11.9" fill="#000000" xml:space="preserve">40</text>
<text transform="translate(48.24,217.10) scale(0.8515,1)" font-size="11.9" fill="#000000" xml:space="preserve">50</text>
<text transform="translate(642.34,217.10) scale(0.8515,1)" font-size="11.9" fill="#000000" xml:space="preserve">50</text>
<text transform="translate(48.24,183.10) scale(0.8515,1)" font-size="11.9" fill="#000000" xml:space="preserve">60</text>
<text transform="translate(642.34,183.10) scale(0.8515,1)" font-size="11.9" fill="#000000" xml:space="preserve">60</text>
<text transform="translate(48.24,149.10) scale(0.8515,1)" font-size="11.9" fill="#000000" xml:space="preserve">70</text>
<text transform="translate(642.34,149.10) scale(0.8515,1)" font-size="11.9" fill="#000000" xml:space="preserve">70</text>
<text transform="translate(48.24,115.10) scale(0.8515,1)" font-size="11.9" fill="#000000" xml:space="preserve">80</text>
<text transform="translate(642.34,115.10) scale(0.8515,1)" font-size="11.9" fill="#000000" xml:space="preserve">80</text>
<text transform="translate(48.24,81.10) scale(0.8515,1)" font-size="11.9" fill="#000000" xml:space="preserve">90</text>
<text transform="translate(642.34,81.10) scale(0.8515,1)" font-size="11.9" fill="#000000" xml:space="preserve">90</text>
<text transform="translate(42.16,47.10) scale(0.8515,1)" font-size="11.9" fill="#000000" xml:space="preserve">100</text>
<text transform="translate(636.26,47.10) scale(0.8515,1)" font-size="11.9" fill="#000000" xml:space="preserve">100</text>
<text transform="translate(45.37,397.60) scale(0.8515,1)" font-size="11.9" fill="#000000" xml:space="preserve">Fri 00:00</text>
<text transform="translate(182.87,397.60) scale(0.8515,1)" font-size="11.9" fill="#000000" xml:space="preserve">Fri 06:00</text>
<text transform="translate(320.37,397.60) scale(0.8515,1)" font-size="11.9" fill="#000000" xml:space="preserve">Fri 12:00</text>
<text transform="translate(457.87,397.60) scale(0.8515,1)" font-size="11.9" fill="#000000" xml:space="preserve">Fri 18:00</text>
<text transform="translate(17.4,207.2) rotate(-90)" font-size="12.0" text-anchor="middle">C</text>
<text transform="translate(685.3,6) rotate(90)" font-size="8.4" fill="#b6b6b6" textLength="110.5" lengthAdjust="spacing">RRDTOOL / TOBI OETIKER</text>
<rect x="16.3" y="407.3" width="8.4" height="8.4" fill="#ff0000" stroke="#000000" stroke-width="1"/>
<text transform="translate(30.30,415.00) scale(0.9625,1)" font-size="12.0" fill="#000000" xml:space="preserve">VL Kessel</text>
<rect x="114.6" y="407.3" width="8.4" height="8.4" fill="#000080" stroke="#000000" stroke-width="1"/>
<text transform="translate(128.40,415.00) scale(0.9625,1)" font-size="12.0" fill="#000000" xml:space="preserve">RL Kessel</text>
<rect x="219.6" y="407.3" width="8.4" height="8.4" fill="#ff80a8" stroke="#000000" stroke-width="1"/>
<text transform="translate(233.40,415.00) scale(0.9625,1)" font-size="12.0" fill="#000000" xml:space="preserve">VL Heizung</text>
<rect x="338.3" y="407.3" width="8.4" height="8.4" fill="#0000ff" stroke="#000000" stroke-width="1"/>
<text transform="translate(352.40,415.00) scale(0.9625,1)" font-size="12.0" fill="#000000" xml:space="preserve">RL Heizung</text>
<rect x="471.5" y="407.3" width="8.4" height="8.4" fill="#a80000" stroke="#000000" stroke-width="1"/>
<text transform="translate(485.20,415.00) scale(0.9625,1)" font-size="12.0" fill="#000000" xml:space="preserve">Puffer Oben</text>
<rect x="583.3" y="407.3" width="8.4" height="8.4" fill="#800090" stroke="#000000" stroke-width="1"/>
<text transform="translate(597.30,415.00) scale(0.9625,1)" font-size="12.0" fill="#000000" xml:space="preserve">Puffer Mitte</text>
<rect x="16.3" y="421.3" width="8.4" height="8.4" fill="#ff00ff" stroke="#000000" stroke-width="1"/>
<text transform="translate(30.30,428.80) scale(0.9625,1)" font-size="12.0" fill="#000000" xml:space="preserve">Luftfeuchte</text>
<rect x="124.7" y="421.3" width="8.4" height="8.4" fill="#0000ff" stroke="#000000" stroke-width="1"/>
<text transform="translate(138.40,428.80) scale(0.9625,1)" font-size="12.0" fill="#000000" xml:space="preserve">AT&gt;5C, FS AUS</text>
<rect x="246.7" y="421.3" width="8.4" height="8.4" fill="#ff00ff" stroke="#000000" stroke-width="1"/>
<text transform="translate(260.70,428.80) scale(0.9625,1)" font-size="12.0" fill="#000000" xml:space="preserve">AT&lt;2C, FS EIN</text>
<rect x="368.7" y="421.3" width="8.4" height="8.4" fill="#888888" stroke="#000000" stroke-width="1"/>
<text transform="translate(382.50,428.80) scale(0.9625,1)" font-size="12.0" fill="#000000" xml:space="preserve">Kessel-P AUS</text>
<rect x="483.3" y="421.3" width="8.4" height="8.4" fill="#cccc00" stroke="#000000" stroke-width="1"/>
<text transform="translate(497.30,428.80) scale(0.9625,1)" font-size="12.0" fill="#000000" xml:space="preserve">Kessel-P EIN</text>
<rect x="598.5" y="421.3" width="8.4" height="8.4" fill="#ff0000" stroke="#000000" stroke-width="1"/>
<text transform="translate(612.30,428.80) scale(0.9625,1)" font-size="12.0" fill="#000000" xml:space="preserve">Heiz-P AUS</text>
<rect x="16.3" y="435.3" width="8.4" height="8.4" fill="#00ff00" stroke="#000000" stroke-width="1"/>
<text transform="translate(30.30,442.60) scale(0.9625,1)" font-size="12.0" fill="#000000" xml:space="preserve">Heiz-P EIN</text>
<text transform="translate(147.40,442.60) scale(0.9692,1)" font-size="12.0" fill="#000000" xml:space="preserve">akt.rH: 0.00 C um 23:45</text>
<text transform="translate(355.40,442.60) scale(0.9650,1)" font-size="12.0" fill="#000000" xml:space="preserve">akt.AT: 5.25 C um 23:45</text>
<text transform="translate(563.30,442.60) scale(0.9665,1)" font-size="12.0" fill="#000000" xml:space="preserve">min.AT24h: 3.12 C</text>
<text transform="translate(16.50,456.40) scale(0.9690,1)" font-size="12.0" fill="#000000" xml:space="preserve">max.AT24h: 6.94 C</text>
<text transform="translate(151.40,456.40) scale(0.9700,1)" font-size="12.0" fill="#000000" xml:space="preserve">akt.Fuellstand:   73 Prozent um 23:45</text>
</g>
</svg>
</body></html>
